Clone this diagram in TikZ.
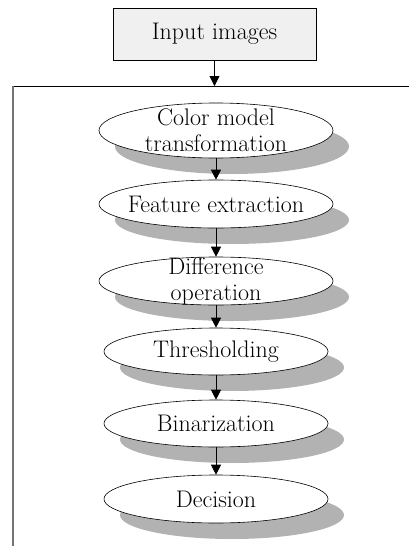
\documentclass[tikz,border=0pt]{standalone}
\usetikzlibrary{shapes.geometric,arrows.meta,shadows}
\begin{document}
\begin{tikzpicture}[x=1pt,y=-1pt,
  proc/.style={ellipse, draw, line width=0.6pt, fill=white, inner sep=0pt,
    drop shadow={shadow xshift=16pt, shadow yshift=-16pt, fill=black!30, opacity=1, draw=none}},
  txt/.style={font=\fontsize{24}{26}\selectfont, align=center, inner sep=0pt},
  arr/.style={-{Triangle[length=10pt,width=10pt]}, line width=0.8pt}]
\useasboundingbox (0,0) rectangle (409,546);
% input box
\node[draw, line width=0.6pt, fill=black!6, minimum width=203pt, minimum height=52pt, inner sep=0pt, txt] (in) at (214.5,34) {Input images};
\coordinate (ftop) at (214.5,86);
\coordinate (fl) at (13,86);
\coordinate (fr) at (409,86);
\coordinate (fb) at (13,546);
\draw[line width=0.8pt] (fl) -- (fr);
\draw[black!55, line width=1.6pt] (fl) -- (fb);
\draw[arr] (in.south) -- (ftop);
% ellipses
\node[proc, minimum width=234pt, minimum height=55pt] (e1) at (216,130.5) {};
\node[proc, minimum width=234pt, minimum height=48pt] (e2) at (216,204) {};
\node[proc, minimum width=234pt, minimum height=48pt] (e3) at (216,281) {};
\node[proc, minimum width=224pt, minimum height=47pt] (e4) at (216,351.5) {};
\node[proc, minimum width=224pt, minimum height=47pt] (e5) at (216,423.5) {};
\node[proc, minimum width=224pt, minimum height=48pt] (e6) at (216,499) {};
% texts
\node[txt] (t1) at (e1) {Color model\\transformation};
\node[txt] (t2) at (e2) {Feature extraction};
\node[txt] (t3) at (e3) {Difference\\operation};
\node[txt] (t4) at (e4) {Thresholding};
\node[txt] (t5) at (e5) {Binarization};
\node[txt] (t6) at (e6) {Decision};
% arrows
\draw[arr] (e1.south) -- (e2.north);
\draw[arr] (e2.south) -- (e3.north);
\draw[arr] (e3.south) -- (e4.north);
\draw[arr] (e4.south) -- (e5.north);
\draw[arr] (e5.south) -- (e6.north);
\end{tikzpicture}
\end{document}
